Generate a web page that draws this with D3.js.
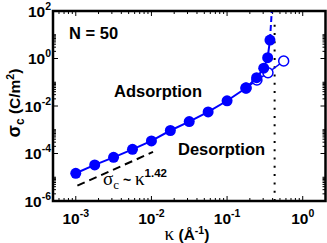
<!DOCTYPE html>
<html><head><meta charset="utf-8">
<script src="https://cdn.jsdelivr.net/npm/d3@7"></script>
<style>
body{margin:0;background:#fff}
text{font-family:"Liberation Sans",Arial,Helvetica,sans-serif;font-weight:bold;fill:#000}
.greek{font-family:"Liberation Serif","DejaVu Serif",serif;font-weight:normal}
</style></head><body>
<svg id="c" width="327" height="243"></svg>
<script>
// data
const kappaFilled = [0.001,0.00178,0.00316,0.00562,0.01,0.0178,0.0316,0.0562,0.1,0.178,0.246,0.305,0.344,0.369];
const sigmaFilled = [1.47e-5,3.3e-5,6.9e-5,1.5e-4,3.4e-4,9.3e-4,2.2e-3,5.6e-3,0.0166,0.057,0.155,0.39,1.08,6.0];
const kappaOpen = [0.178,0.248,0.347,0.56];
const sigmaOpen = [0.057,0.124,0.25,0.785];
const asymptoteK = [0.369,0.39];
const asymptoteS = [6.0,100];
const kappaStar = 0.425;
const fitK = [0.00105,0.0105];
const fitPrefactor = Math.pow(10,-1.125);
const fitExponent = 1.42;
const xTickExps = [-3,-2,-1,0];
const yTickExps = [2,0,-2,-4,-6];

const svg = d3.select("#c");
const L=53,R=325.5,T=11,B=201;
const x = d3.scaleLog().domain([5e-4,2]).range([L,R]);
const y = d3.scaleLog().domain([1e-6,1e2]).range([B,T]);

const g = svg.append("g");
// ticks
const xMinor=[], yMinor=[];
for(let e=-4;e<=0;e++) for(let m=2;m<=9;m++){const v=m*Math.pow(10,e); if(v>5e-4&&v<2) xMinor.push(v);}
for(let e=-6;e<2;e+=2) for(let m=2;m<=10;m++){yMinor.push(m*Math.pow(10,e));}
const tk = g.append("g").attr("stroke","#000").attr("stroke-width",1);
xMinor.forEach(v=>{const px=x(v);tk.append("line").attr("x1",px).attr("x2",px).attr("y1",B).attr("y2",B-3);tk.append("line").attr("x1",px).attr("x2",px).attr("y1",T).attr("y2",T+3);});
xTickExps.forEach(e=>{const px=x(Math.pow(10,e));tk.append("line").attr("x1",px).attr("x2",px).attr("y1",B).attr("y2",B-5);tk.append("line").attr("x1",px).attr("x2",px).attr("y1",T).attr("y2",T+5);});
yMinor.forEach(v=>{const py=y(v);tk.append("line").attr("y1",py).attr("y2",py).attr("x1",L).attr("x2",L+3);tk.append("line").attr("y1",py).attr("y2",py).attr("x1",R).attr("x2",R-3);});
yTickExps.forEach(e=>{const py=y(Math.pow(10,e));tk.append("line").attr("y1",py).attr("y2",py).attr("x1",L).attr("x2",L+5);tk.append("line").attr("y1",py).attr("y2",py).attr("x1",R).attr("x2",R-5);});

// tick labels
xTickExps.forEach(e=>{
  const t=g.append("text").attr("x",x(Math.pow(10,e))).attr("y",224).attr("text-anchor","middle").attr("font-size",15.5);
  t.append("tspan").text("10");
  t.append("tspan").attr("dy",-7).attr("font-size",10.5).text(String(e));
});
yTickExps.forEach(e=>{
  const t=g.append("text").attr("x",51).attr("y",y(Math.pow(10,e))+5.5).attr("text-anchor","end").attr("font-size",15.5);
  t.append("tspan").text("10");
  t.append("tspan").attr("dy",-7).attr("font-size",10.5).text(String(e));
});

// fit dashed line
const fitLine = d3.line().x(d=>x(d)).y(d=>y(fitPrefactor*Math.pow(d,fitExponent)));
g.append("path").attr("d",fitLine(fitK)).attr("fill","none").attr("stroke","#000").attr("stroke-width",2).attr("stroke-dasharray","8,5");

// dotted vertical
g.append("line").attr("x1",x(kappaStar)).attr("x2",x(kappaStar)).attr("y1",y(1e-6)).attr("y2",y(30))
  .attr("stroke","#000").attr("stroke-width",2).attr("stroke-dasharray","2,6.3");

// asymptote dashed blue
const ln = d3.line().x(d=>x(d[0])).y(d=>y(d[1]));
g.append("path").attr("d",ln(d3.zip(asymptoteK,asymptoteS))).attr("fill","none").attr("stroke","#0000ff").attr("stroke-width",2).attr("stroke-dasharray","6,3");

// open series
g.append("path").attr("d",ln(d3.zip(kappaOpen,sigmaOpen))).attr("fill","none").attr("stroke","#0000ff").attr("stroke-width",1.5);
g.selectAll(".o").data(d3.zip(kappaOpen,sigmaOpen)).enter().append("circle")
  .attr("cx",d=>x(d[0])).attr("cy",d=>y(d[1])).attr("r",5).attr("fill","#fff").attr("stroke","#0000ff").attr("stroke-width",1.5);
// filled series
g.append("path").attr("d",ln(d3.zip(kappaFilled,sigmaFilled))).attr("fill","none").attr("stroke","#0000ff").attr("stroke-width",2);
g.selectAll(".f").data(d3.zip(kappaFilled,sigmaFilled)).enter().append("circle")
  .attr("cx",d=>x(d[0])).attr("cy",d=>y(d[1])).attr("r",5.5).attr("fill","#0000ff");

// frame
g.append("rect").attr("x",L).attr("y",T).attr("width",R-L).attr("height",B-T).attr("fill","none").attr("stroke","#000").attr("stroke-width",2.5);

// annotations
g.append("text").attr("x",69).attr("y",39).attr("font-size",16.5).text("N = 50");
g.append("text").attr("x",114).attr("y",97).attr("font-size",16.5).text("Adsorption");
g.append("text").attr("x",178).attr("y",155).attr("font-size",16.5).text("Desorption");
const an = g.append("text").attr("x",103).attr("y",185).attr("font-size",15);
an.append("tspan").attr("class","greek").attr("font-size",19).text("σ");
an.append("tspan").attr("class","greek").attr("font-size",13).attr("dy",4).text("c");
an.append("tspan").attr("dy",-4).attr("font-size",14).text(" ~ ");
an.append("tspan").attr("class","greek").attr("font-size",19).text("κ");
an.append("tspan").attr("font-size",11.5).attr("dy",-8).text("1.42");

// axis labels
const yl = g.append("text").attr("transform","translate(20,103) rotate(-90)").attr("text-anchor","middle").attr("font-size",15.5);
yl.append("tspan").attr("font-size",18).text("σ");
yl.append("tspan").attr("font-size",12).attr("dy",4).text("c");
yl.append("tspan").attr("dy",-4).text(" (C/m");
yl.append("tspan").attr("font-size",10.5).attr("dy",-6).text("2");
yl.append("tspan").attr("dy",6).text(")");
const xl = g.append("text").attr("x",187).attr("y",240).attr("text-anchor","middle").attr("font-size",15.5);
xl.append("tspan").attr("class","greek").attr("font-size",19).text("κ");
xl.append("tspan").text(" (Å");
xl.append("tspan").attr("font-size",10.5).attr("dy",-6).text("-1");
xl.append("tspan").attr("dy",6).text(")");
</script></body></html>
